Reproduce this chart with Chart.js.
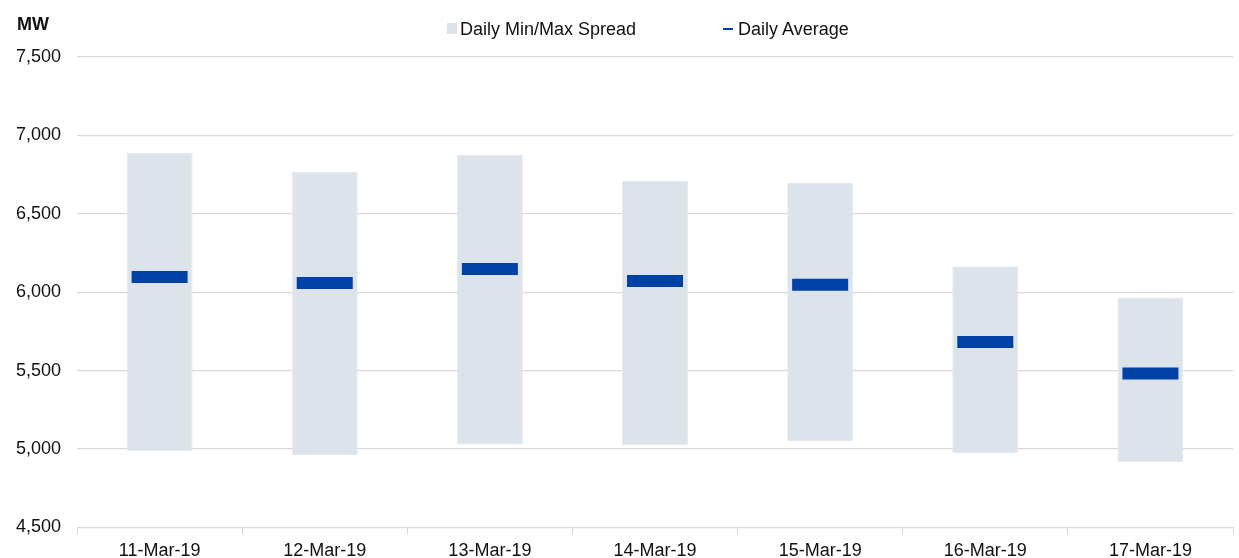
<!DOCTYPE html>
<html>
<head>
<meta charset="utf-8">
<script src="https://cdn.jsdelivr.net/npm/chart.js@4"></script>
<style>
  html, body { margin: 0; padding: 0; background: #fff; }
  #wrap { position: relative; width: 1239px; height: 558px; font-family: "Liberation Sans", Arial, sans-serif; }
  #chart { position: absolute; left: 0; top: 0; }
  .lbl { position: absolute; font-size: 18px; line-height: 18px; color: #111; white-space: nowrap; }
  .unit { left: 17px; top: 15px; font-weight: bold; }
  .swatch { position: absolute; }
</style>
</head>
<body>
<div id="wrap">
  <canvas id="chart" width="1239" height="558"></canvas>
  <div class="lbl unit">MW</div>
  <!-- legenda -->
  <div class="swatch" style="left:447px;top:23px;width:10px;height:11px;background:#dce3ea;"></div>
  <div class="lbl" style="left:460px;top:20px;">Daily Min/Max Spread</div>
  <div class="swatch" style="left:723px;top:28px;width:10px;height:2px;background:#0041a5;"></div>
  <div class="lbl" style="left:738px;top:20px;">Daily Average</div>
</div>
<script>
// Dias do gráfico
const days = ['11-Mar-19', '12-Mar-19', '13-Mar-19', '14-Mar-19', '15-Mar-19', '16-Mar-19', '17-Mar-19'];
// Valores mínimos, máximos e médios diários (MW)
const dailyMin = [4987, 4962, 5029, 5025, 5048, 4972, 4917];
const dailyMax = [6887, 6766, 6875, 6710, 6699, 6166, 5966];
const dailyAvg = [6097, 6059, 6148, 6072, 6047, 5683, 5481];
// Eixo Y
const yMin = 4500;
const yMax = 7500;
const yStep = 500;

const spread = days.map((d, i) => [dailyMin[i], dailyMax[i]]);

Chart.defaults.font.family = '"Liberation Sans", Arial, sans-serif';
Chart.defaults.font.size = 18;
Chart.defaults.color = '#111';

const ctx = document.getElementById('chart').getContext('2d');
const chart = new Chart(ctx, {
    data: {
        labels: days,
        datasets: [{
            type: 'line',
            label: 'Daily Average',
            data: dailyAvg,
            showLine: false,
            pointStyle: 'line',
            pointRadius: 28,
            pointHoverRadius: 28,
            pointBorderWidth: 12,
            pointHoverBorderWidth: 12,
            pointBorderColor: '#0041a5',
            pointBackgroundColor: '#0041a5',
            borderColor: '#0041a5',
            order: 0
        }, {
            type: 'bar',
            label: 'Daily Min/Max Spread',
            data: spread,
            backgroundColor: '#dce3ea',
            borderColor: '#e6ebf0',
            borderWidth: 1,
            borderSkipped: false,
            barPercentage: 0.4,
            categoryPercentage: 1,
            order: 1
        }]
    },
    options: {
        responsive: false,
        animation: false,
        layout: { autoPadding: false, padding: { left: 0, right: 6, top: 57, bottom: -10 } },
        plugins: {
            legend: { display: false },
            tooltip: { enabled: false }
        },
        scales: {
            x: {
                offset: true,
                grid: { drawOnChartArea: false, drawTicks: true, tickLength: 7, color: '#d9d9d9', offset: true },
                border: { display: true, color: '#d9d9d9' },
                ticks: { padding: 6, maxRotation: 0 }
            },
            y: {
                min: yMin,
                max: yMax,
                ticks: {
                    stepSize: yStep,
                    padding: 16,
                    callback: v => v.toLocaleString('en-US')
                },
                grid: { drawTicks: false, color: '#d9d9d9', lineWidth: 1.3 },
                border: { display: false }
            }
        }
    }
});
</script>
</body>
</html>
